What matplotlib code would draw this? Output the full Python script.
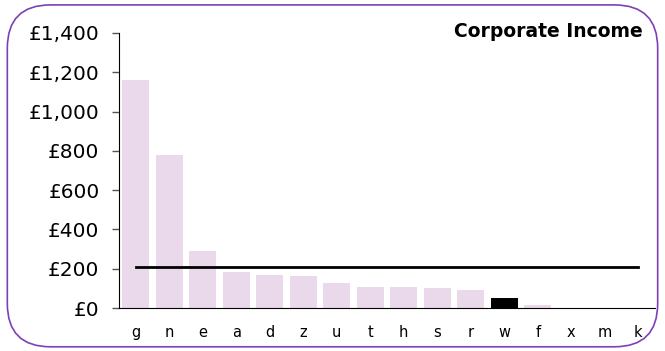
import numpy as np
import matplotlib.pyplot as plt
from matplotlib.patches import FancyBboxPatch
from matplotlib.ticker import FuncFormatter

categories = ["g", "n", "e", "a", "d", "z", "u", "t", "h", "s", "r", "w", "f", "x", "m", "k"]
income = [1160, 780, 291, 185, 169, 163, 129, 107, 107, 100, 90, 51, 17, 0, 0, 0]
highlight = "w"

bar_color = "#ead9ea"
x = np.arange(len(categories))
colors = ["black" if c == highlight else bar_color for c in categories]
average = np.mean(income)

fig = plt.figure(figsize=(6.65, 3.51), dpi=100)
ax = fig.add_axes([0.179, 0.1225, 0.806, 0.7835])

ax.bar(x, income, width=0.8, color=colors, zorder=1)
ax.plot([x[0], x[-1]], [average, average], color="black", lw=2, zorder=2)

ax.set_xlim(-0.5, len(categories) - 0.5)
ax.set_ylim(0, 1400)
ax.set_yticks(np.arange(0, 1401, 200))
ax.yaxis.set_major_formatter(FuncFormatter(lambda v, _: f"£{v:,.0f}"))
ax.set_xticks(x)
ax.set_xticklabels(categories)

for s in ["top", "right"]:
    ax.spines[s].set_visible(False)
ax.spines["left"].set_color("black")
ax.spines["bottom"].set_color("black")
ax.tick_params(axis="y", length=5, width=1, color="#555555", pad=9, labelsize=14.5)
ax.tick_params(axis="x", length=0, pad=12, labelsize=10.5)

fig.text(0.967, 0.91, "Corporate Income", ha="right", va="center",
         fontsize=13.5, fontweight="bold")

# rounded purple frame around the whole chart
frame = FancyBboxPatch((0.011, 0.012), 0.978, 0.974,
                       boxstyle="round,pad=0,rounding_size=0.065",
                       transform=fig.transFigure, fill=False,
                       edgecolor="#7e3fb8", lw=1.2, mutation_aspect=665 / 351)
fig.patches.append(frame)

fig.savefig("out.png", dpi=100)
